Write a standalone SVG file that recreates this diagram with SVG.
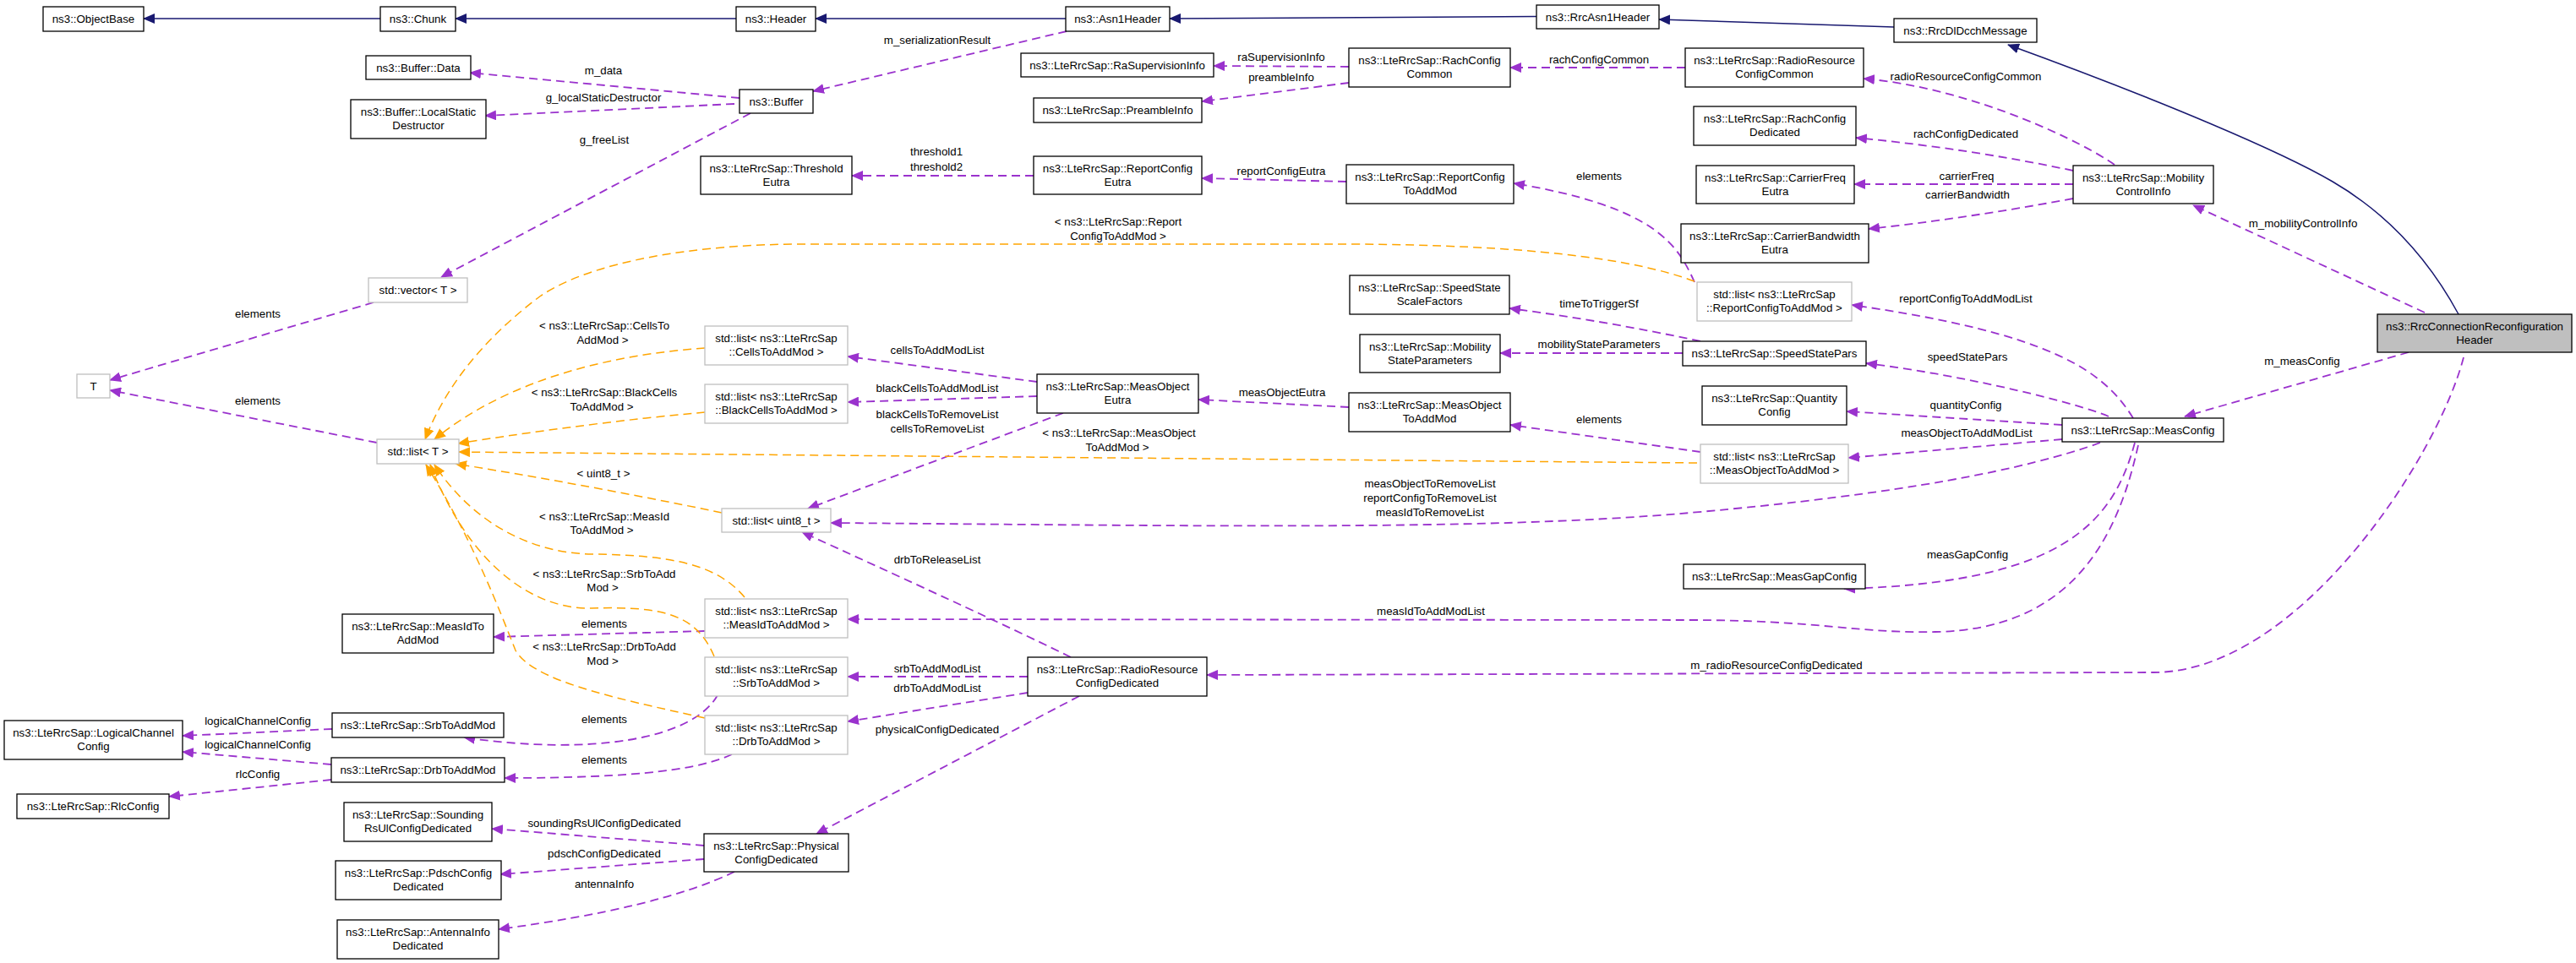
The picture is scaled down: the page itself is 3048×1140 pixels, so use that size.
<svg xmlns="http://www.w3.org/2000/svg" width="3048" height="1140" viewBox="0 0 3048 1140">
<style>
text{font-family:"Liberation Sans",Arial,Helvetica,sans-serif;font-size:13.3px;fill:#000;text-anchor:middle}
.n rect{fill:#fff;stroke:#000;stroke-width:1.3}
.g rect{fill:#fff;stroke:#bfbfbf;stroke-width:1.3}
.h rect{fill:#bfbfbf;stroke:#000;stroke-width:1.3}
.i{fill:none;stroke:#191970;stroke-width:1.5;marker-end:url(#ab)}
.p{fill:none;stroke:#9a32cd;stroke-width:1.8;stroke-dasharray:10,6;marker-end:url(#ap)}
.o{fill:none;stroke:#ffa500;stroke-width:1.5;stroke-dasharray:10,6;marker-end:url(#ao)}
</style>
<defs>
<marker id="ab" markerUnits="userSpaceOnUse" markerWidth="14" markerHeight="12" viewBox="0 0 14 12" refX="13" refY="6" orient="auto"><path d="M0,0L14,6L0,12z" fill="#191970"/></marker>
<marker id="ap" markerUnits="userSpaceOnUse" markerWidth="14" markerHeight="12" viewBox="0 0 14 12" refX="13" refY="6" orient="auto"><path d="M0,0L14,6L0,12z" fill="#9a32cd"/></marker>
<marker id="ao" markerUnits="userSpaceOnUse" markerWidth="14" markerHeight="12" viewBox="0 0 14 12" refX="13" refY="6" orient="auto"><path d="M0,0L14,6L0,12z" fill="#ffa500"/></marker>
</defs>
<rect width="3048" height="1140" fill="#fff"/>
<g id="edges">
<path class="i" d="M450,22L170,22"/>
<path class="i" d="M871,22L539,22"/>
<path class="i" d="M1261,22L965,22"/>
<path class="i" d="M1818,19.5L1384,22"/>
<path class="i" d="M2241,32L1963,23"/>
<path class="i" d="M2909,372C2870,300 2820,250 2760,215S2560,120 2376,53"/>
<path class="p" d="M875,116L556,86"/>
<path class="p" d="M869,123L574,137"/>
<path class="p" d="M888,134L522,328"/>
<path class="p" d="M1262,37L962,108"/>
<path class="p" d="M1596,79L1436,78"/>
<path class="p" d="M1596,98L1422,120"/>
<path class="p" d="M1994,80L1787,80"/>
<path class="p" d="M2502,195C2470,172 2340,105 2205,93"/>
<path class="p" d="M2453,202Q2330,176 2196,163"/>
<path class="p" d="M2453,218L2194,218"/>
<path class="p" d="M2453,235Q2330,258 2211,271"/>
<path class="p" d="M2869,370L2595,243"/>
<path class="p" d="M1593,215L1422,211"/>
<path class="p" d="M1223,208L1008,208"/>
<path class="p" d="M2005,334C1985,290 1960,245 1791,217"/>
<path class="p" d="M2524,495C2490,440 2430,395 2191,361"/>
<path class="p" d="M2012,404Q1900,380 1786,365"/>
<path class="p" d="M1991,418L1775,418"/>
<path class="p" d="M2495,493C2460,478 2330,445 2208,430"/>
<path class="p" d="M2440,503L2185,487"/>
<path class="p" d="M2440,520L2187,542"/>
<path class="p" d="M2012,535L1787,503"/>
<path class="p" d="M1596,482L1418,473"/>
<path class="p" d="M1227,452L1003,422"/>
<path class="p" d="M1227,469L1003,476"/>
<path class="p" d="M1258,489L956,602"/>
<path class="p" d="M2485,524C2400,555 2250,585 2000,607S1400,622 983,619"/>
<path class="p" d="M1267,778Q1180,735 949,630"/>
<path class="p" d="M2526,524C2500,620 2440,690 2182,697"/>
<path class="p" d="M2530,527C2505,640 2450,745 2290,748C2200,750 2150,734 2000,734L1003,733"/>
<path class="p" d="M834,747L584,754"/>
<path class="p" d="M1216,801L1003,801"/>
<path class="p" d="M1216,820L1003,854"/>
<path class="p" d="M1277,824L966,987"/>
<path class="p" d="M2915,423C2885,540 2720,796 2548,796L1428,799"/>
<path class="p" d="M2850,417L2585,493"/>
<path class="p" d="M446,524L130,462"/>
<path class="p" d="M442,358L130,450"/>
<path class="p" d="M849,823C820,875 700,895 549,873"/>
<path class="p" d="M866,893C830,910 760,921 597,921"/>
<path class="p" d="M393,863L216,871"/>
<path class="p" d="M392,905L216,890"/>
<path class="p" d="M392,923L200,943"/>
<path class="p" d="M833,1001L582,981"/>
<path class="p" d="M833,1017L592,1035"/>
<path class="p" d="M869,1032Q780,1075 590,1100"/>
<path class="o" d="M2005,333C1930,305 1800,290 1600,289L950,289C820,289 700,310 640,350C580,395 530,450 503,520"/>
<path class="o" d="M834,412C720,420 600,450 514,520"/>
<path class="o" d="M834,488Q700,500 542,525"/>
<path class="o" d="M2008,548Q1300,542 543,535"/>
<path class="o" d="M854,607Q700,575 539,549"/>
<path class="o" d="M881,707C850,670 800,657 700,656C630,655 560,620 514,550"/>
<path class="o" d="M845,777C825,730 790,717 700,720C640,722 560,680 509,550"/>
<path class="o" d="M834,850C720,825 630,805 610,770C590,720 560,640 504,550"/>
<text x="714" y="88">m_data</text>
<text x="714" y="120">g_localStaticDestructor</text>
<text x="715" y="170">g_freeList</text>
<text x="1109" y="52">m_serializationResult</text>
<text x="1516" y="72">raSupervisionInfo</text>
<text x="1516" y="96">preambleInfo</text>
<text x="1892" y="75">rachConfigCommon</text>
<text x="2326" y="95">radioResourceConfigCommon</text>
<text x="2326" y="163">rachConfigDedicated</text>
<text x="2327" y="213">carrierFreq</text>
<text x="2328" y="235">carrierBandwidth</text>
<text x="2725" y="269">m_mobilityControlInfo</text>
<text x="1516" y="207">reportConfigEutra</text>
<text x="1108" y="184">threshold1</text>
<text x="1108" y="202">threshold2</text>
<text x="1892" y="213">elements</text>
<text x="2326" y="358">reportConfigToAddModList</text>
<text x="1892" y="364">timeToTriggerSf</text>
<text x="1892" y="412">mobilityStateParameters</text>
<text x="2328" y="427">speedStatePars</text>
<text x="2326" y="484">quantityConfig</text>
<text x="2327" y="517">measObjectToAddModList</text>
<text x="1892" y="501">elements</text>
<text x="1517" y="469">measObjectEutra</text>
<text x="1109" y="419">cellsToAddModList</text>
<text x="1109" y="464">blackCellsToAddModList</text>
<text x="1109" y="495">blackCellsToRemoveList</text>
<text x="1109" y="512">cellsToRemoveList</text>
<text x="1692" y="577">measObjectToRemoveList</text>
<text x="1692" y="594">reportConfigToRemoveList</text>
<text x="1692" y="611">measIdToRemoveList</text>
<text x="1109" y="667">drbToReleaseList</text>
<text x="2328" y="661">measGapConfig</text>
<text x="1693" y="728">measIdToAddModList</text>
<text x="715" y="743">elements</text>
<text x="1109" y="796">srbToAddModList</text>
<text x="1109" y="819">drbToAddModList</text>
<text x="1109" y="868">physicalConfigDedicated</text>
<text x="2102" y="792">m_radioResourceConfigDedicated</text>
<text x="2724" y="432">m_measConfig</text>
<text x="305" y="479">elements</text>
<text x="305" y="376">elements</text>
<text x="715" y="856">elements</text>
<text x="715" y="904">elements</text>
<text x="305" y="858">logicalChannelConfig</text>
<text x="305" y="886">logicalChannelConfig</text>
<text x="305" y="921">rlcConfig</text>
<text x="715" y="979">soundingRsUlConfigDedicated</text>
<text x="715" y="1015">pdschConfigDedicated</text>
<text x="715" y="1051">antennaInfo</text>
<text x="1323" y="267">&lt; ns3::LteRrcSap::Report</text>
<text x="1323" y="284">ConfigToAddMod &gt;</text>
<text x="715" y="390">&lt; ns3::LteRrcSap::CellsTo</text>
<text x="713" y="407">AddMod &gt;</text>
<text x="715" y="469">&lt; ns3::LteRrcSap::BlackCells</text>
<text x="712" y="486">ToAddMod &gt;</text>
<text x="1324" y="517">&lt; ns3::LteRrcSap::MeasObject</text>
<text x="1322" y="534">ToAddMod &gt;</text>
<text x="714" y="565">&lt; uint8_t &gt;</text>
<text x="715" y="616">&lt; ns3::LteRrcSap::MeasId</text>
<text x="712" y="632">ToAddMod &gt;</text>
<text x="715" y="684">&lt; ns3::LteRrcSap::SrbToAdd</text>
<text x="713" y="700">Mod &gt;</text>
<text x="715" y="770">&lt; ns3::LteRrcSap::DrbToAdd</text>
<text x="713" y="787">Mod &gt;</text>
</g>
<g id="ObjectBase" class="n"><rect x="51" y="8" width="119" height="29"/><text x="110.5" y="27">ns3::ObjectBase</text></g>
<g id="Chunk" class="n"><rect x="450" y="8" width="89" height="29"/><text x="494.5" y="27">ns3::Chunk</text></g>
<g id="Header" class="n"><rect x="871" y="8" width="94" height="29"/><text x="918" y="27">ns3::Header</text></g>
<g id="Asn1Header" class="n"><rect x="1261" y="8" width="123" height="29"/><text x="1322.5" y="27">ns3::Asn1Header</text></g>
<g id="RrcAsn1Header" class="n"><rect x="1818" y="6" width="145" height="28"/><text x="1890.5" y="25">ns3::RrcAsn1Header</text></g>
<g id="RrcDlDcchMessage" class="n"><rect x="2241" y="22" width="169" height="28"/><text x="2325.5" y="41">ns3::RrcDlDcchMessage</text></g>
<g id="RrcConnectionReconfigurationHeader" class="h"><rect x="2813" y="372" width="230" height="45"/><text x="2928" y="390.7">ns3::RrcConnectionReconfiguration</text><text x="2928" y="406.7">Header</text></g>
<g id="BufferData" class="n"><rect x="433" y="66" width="124" height="28"/><text x="495" y="85">ns3::Buffer::Data</text></g>
<g id="BufferLocalStaticDestructor" class="n"><rect x="415" y="118" width="160" height="46"/><text x="495" y="136.7">ns3::Buffer::LocalStatic</text><text x="495" y="152.7">Destructor</text></g>
<g id="Buffer" class="n"><rect x="875" y="106" width="87" height="28"/><text x="918.5" y="125">ns3::Buffer</text></g>
<g id="vectorT" class="g"><rect x="436" y="329" width="117" height="29"/><text x="494.5" y="348">std::vector&lt; T &gt;</text></g>
<g id="RaSupervisionInfo" class="n"><rect x="1208" y="63" width="228" height="28"/><text x="1322" y="82">ns3::LteRrcSap::RaSupervisionInfo</text></g>
<g id="PreambleInfo" class="n"><rect x="1223" y="116" width="199" height="29"/><text x="1322.5" y="135">ns3::LteRrcSap::PreambleInfo</text></g>
<g id="ThresholdEutra" class="n"><rect x="829" y="185" width="179" height="45"/><text x="918.5" y="203.7">ns3::LteRrcSap::Threshold</text><text x="918.5" y="219.7">Eutra</text></g>
<g id="ReportConfigEutra" class="n"><rect x="1223" y="185" width="199" height="45"/><text x="1322.5" y="203.7">ns3::LteRrcSap::ReportConfig</text><text x="1322.5" y="219.7">Eutra</text></g>
<g id="RachConfigCommon" class="n"><rect x="1596" y="57" width="191" height="46"/><text x="1691.5" y="75.7">ns3::LteRrcSap::RachConfig</text><text x="1691.5" y="91.7">Common</text></g>
<g id="RadioResourceConfigCommon" class="n"><rect x="1994" y="57" width="211" height="46"/><text x="2099.5" y="75.7">ns3::LteRrcSap::RadioResource</text><text x="2099.5" y="91.7">ConfigCommon</text></g>
<g id="RachConfigDedicated" class="n"><rect x="2004" y="126" width="192" height="46"/><text x="2100" y="144.7">ns3::LteRrcSap::RachConfig</text><text x="2100" y="160.7">Dedicated</text></g>
<g id="ReportConfigToAddMod" class="n"><rect x="1593" y="195" width="198" height="46"/><text x="1692" y="213.7">ns3::LteRrcSap::ReportConfig</text><text x="1692" y="229.7">ToAddMod</text></g>
<g id="CarrierFreqEutra" class="n"><rect x="2007" y="196" width="187" height="45"/><text x="2100.5" y="214.7">ns3::LteRrcSap::CarrierFreq</text><text x="2100.5" y="230.7">Eutra</text></g>
<g id="CarrierBandwidthEutra" class="n"><rect x="1989" y="265" width="222" height="46"/><text x="2100" y="283.7">ns3::LteRrcSap::CarrierBandwidth</text><text x="2100" y="299.7">Eutra</text></g>
<g id="MobilityControlInfo" class="n"><rect x="2453" y="196" width="166" height="45"/><text x="2536" y="214.7">ns3::LteRrcSap::Mobility</text><text x="2536" y="230.7">ControlInfo</text></g>
<g id="SpeedStateScaleFactors" class="n"><rect x="1597" y="326" width="189" height="46"/><text x="1691.5" y="344.7">ns3::LteRrcSap::SpeedState</text><text x="1691.5" y="360.7">ScaleFactors</text></g>
<g id="listReportConfigToAddMod" class="g"><rect x="2008" y="334" width="183" height="46"/><text x="2099.5" y="352.7">std::list&lt; ns3::LteRrcSap</text><text x="2099.5" y="368.7">::ReportConfigToAddMod &gt;</text></g>
<g id="MobilityStateParameters" class="n"><rect x="1609" y="396" width="166" height="45"/><text x="1692" y="414.7">ns3::LteRrcSap::Mobility</text><text x="1692" y="430.7">StateParameters</text></g>
<g id="SpeedStatePars" class="n"><rect x="1991" y="404" width="217" height="29"/><text x="2099.5" y="423">ns3::LteRrcSap::SpeedStatePars</text></g>
<g id="MeasObjectToAddMod" class="n"><rect x="1596" y="465" width="191" height="46"/><text x="1691.5" y="483.7">ns3::LteRrcSap::MeasObject</text><text x="1691.5" y="499.7">ToAddMod</text></g>
<g id="QuantityConfig" class="n"><rect x="2014" y="457" width="171" height="46"/><text x="2099.5" y="475.7">ns3::LteRrcSap::Quantity</text><text x="2099.5" y="491.7">Config</text></g>
<g id="listMeasObjectToAddMod" class="g"><rect x="2012" y="526" width="175" height="46"/><text x="2099.5" y="544.7">std::list&lt; ns3::LteRrcSap</text><text x="2099.5" y="560.7">::MeasObjectToAddMod &gt;</text></g>
<g id="MeasConfig" class="n"><rect x="2440" y="495" width="191" height="28"/><text x="2535.5" y="514">ns3::LteRrcSap::MeasConfig</text></g>
<g id="MeasGapConfig" class="n"><rect x="1992" y="668" width="215" height="29"/><text x="2099.5" y="687">ns3::LteRrcSap::MeasGapConfig</text></g>
<g id="T" class="g"><rect x="91" y="443" width="39" height="28"/><text x="110.5" y="462">T</text></g>
<g id="listT" class="g"><rect x="446" y="520" width="97" height="29"/><text x="494.5" y="539">std::list&lt; T &gt;</text></g>
<g id="listCellsToAddMod" class="g"><rect x="834" y="386" width="169" height="46"/><text x="918.5" y="404.7">std::list&lt; ns3::LteRrcSap</text><text x="918.5" y="420.7">::CellsToAddMod &gt;</text></g>
<g id="listBlackCellsToAddMod" class="g"><rect x="834" y="455" width="169" height="46"/><text x="918.5" y="473.7">std::list&lt; ns3::LteRrcSap</text><text x="918.5" y="489.7">::BlackCellsToAddMod &gt;</text></g>
<g id="MeasObjectEutra" class="n"><rect x="1227" y="443" width="191" height="46"/><text x="1322.5" y="461.7">ns3::LteRrcSap::MeasObject</text><text x="1322.5" y="477.7">Eutra</text></g>
<g id="listUint8" class="g"><rect x="854" y="602" width="129" height="28"/><text x="918.5" y="621">std::list&lt; uint8_t &gt;</text></g>
<g id="listMeasIdToAddMod" class="g"><rect x="834" y="709" width="169" height="46"/><text x="918.5" y="727.7">std::list&lt; ns3::LteRrcSap</text><text x="918.5" y="743.7">::MeasIdToAddMod &gt;</text></g>
<g id="MeasIdToAddMod" class="n"><rect x="405" y="727" width="179" height="46"/><text x="494.5" y="745.7">ns3::LteRrcSap::MeasIdTo</text><text x="494.5" y="761.7">AddMod</text></g>
<g id="listSrbToAddMod" class="g"><rect x="834" y="778" width="169" height="46"/><text x="918.5" y="796.7">std::list&lt; ns3::LteRrcSap</text><text x="918.5" y="812.7">::SrbToAddMod &gt;</text></g>
<g id="listDrbToAddMod" class="g"><rect x="834" y="847" width="169" height="46"/><text x="918.5" y="865.7">std::list&lt; ns3::LteRrcSap</text><text x="918.5" y="881.7">::DrbToAddMod &gt;</text></g>
<g id="RadioResourceConfigDedicated" class="n"><rect x="1216" y="778" width="212" height="46"/><text x="1322" y="796.7">ns3::LteRrcSap::RadioResource</text><text x="1322" y="812.7">ConfigDedicated</text></g>
<g id="LogicalChannelConfig" class="n"><rect x="5" y="853" width="211" height="46"/><text x="110.5" y="871.7">ns3::LteRrcSap::LogicalChannel</text><text x="110.5" y="887.7">Config</text></g>
<g id="SrbToAddMod" class="n"><rect x="393" y="844" width="203" height="29"/><text x="494.5" y="863">ns3::LteRrcSap::SrbToAddMod</text></g>
<g id="DrbToAddMod" class="n"><rect x="392" y="897" width="205" height="29"/><text x="494.5" y="916">ns3::LteRrcSap::DrbToAddMod</text></g>
<g id="RlcConfig" class="n"><rect x="20" y="940" width="180" height="29"/><text x="110" y="959">ns3::LteRrcSap::RlcConfig</text></g>
<g id="SoundingRsUlConfigDedicated" class="n"><rect x="407" y="950" width="175" height="46"/><text x="494.5" y="968.7">ns3::LteRrcSap::Sounding</text><text x="494.5" y="984.7">RsUlConfigDedicated</text></g>
<g id="PdschConfigDedicated" class="n"><rect x="397" y="1019" width="196" height="46"/><text x="495" y="1037.7">ns3::LteRrcSap::PdschConfig</text><text x="495" y="1053.7">Dedicated</text></g>
<g id="AntennaInfoDedicated" class="n"><rect x="399" y="1089" width="191" height="46"/><text x="494.5" y="1107.7">ns3::LteRrcSap::AntennaInfo</text><text x="494.5" y="1123.7">Dedicated</text></g>
<g id="PhysicalConfigDedicated" class="n"><rect x="833" y="987" width="171" height="45"/><text x="918.5" y="1005.7">ns3::LteRrcSap::Physical</text><text x="918.5" y="1021.7">ConfigDedicated</text></g>
</svg>
